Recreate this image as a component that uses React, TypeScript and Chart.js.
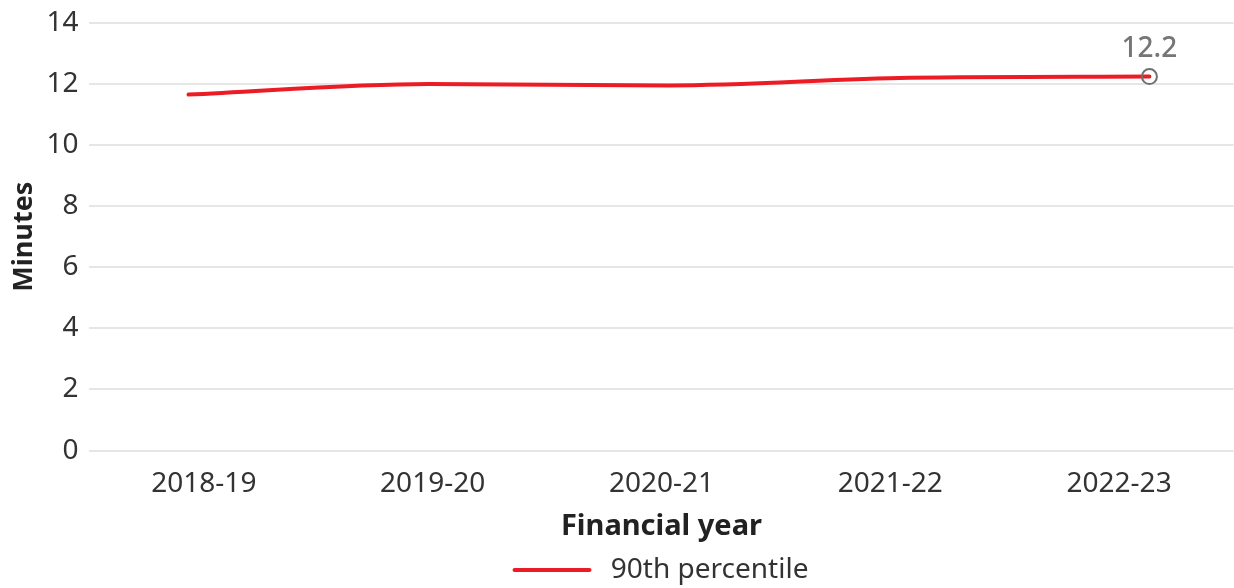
import React, { useEffect, useRef } from "react";
import { Chart, registerables } from "chart.js";

Chart.register(...registerables);

const categories = ["2018-19", "2019-20", "2020-21", "2021-22", "2022-23"];
const percentile90 = [11.65, 12.0, 11.95, 12.2, 12.24];
const yTicks = [0, 2, 4, 6, 8, 10, 12, 14];
const seriesName = "90th percentile";
const xTitle = "Financial year";
const yTitle = "Minutes";

const FONT = "'Noto Sans', 'DejaVu Sans', sans-serif";
const LAST = percentile90.length - 1;

const lastLabelPlugin = {
  id: "lastLabel",
  afterDatasetsDraw(chart: any) {
    const meta = chart.getDatasetMeta(0);
    const pt = meta.data[LAST];
    if (!pt) return;
    const ctx = chart.ctx;
    ctx.save();
    ctx.fillStyle = "#767676";
    ctx.font = `500 28px ${FONT}`;
    ctx.textAlign = "center";
    ctx.textBaseline = "alphabetic";
    ctx.fillText(percentile90[LAST].toFixed(1), pt.x, pt.y - 20);
    ctx.restore();
  },
};

export default function App() {
  const ref = useRef<HTMLCanvasElement | null>(null);
  useEffect(() => {
    document.body.style.overflow = "hidden";
    if (!ref.current) return;
    const chart = new Chart(ref.current, {
      type: "line",
      data: {
        labels: categories,
        datasets: [
          {
            label: seriesName,
            data: percentile90.map((v, i) => ({ x: i, y: v })),
            xAxisID: "xd",
            borderColor: "#ec1c24",
            backgroundColor: "#ec1c24",
            borderWidth: 4,
            borderCapStyle: "round",
            cubicInterpolationMode: "monotone",
            pointStyle: "circle",
            pointRadius: percentile90.map((_, i) => (i === LAST ? 7.5 : 0)),
            pointBorderColor: "#707070",
            pointBackgroundColor: "rgba(0,0,0,0)",
            pointBorderWidth: 2,
            pointHoverRadius: 0,
          } as any,
        ],
      },
      options: {
        animation: false,
        responsive: true,
        maintainAspectRatio: false,
        layout: { padding: { top: 0, right: 0, left: 8, bottom: -6 } },
        plugins: {
          tooltip: { enabled: false },
          legend: {
            position: "bottom",
            fullSize: false,
            labels: {
              usePointStyle: true,
              pointStyle: "line",
              pointStyleWidth: 75,
              boxHeight: 28,
              padding: 4,
              color: "#333333",
              font: { family: FONT, size: 28 },
              generateLabels: (chart: any) => {
                const items = Chart.defaults.plugins.legend.labels.generateLabels(chart);
                return items.map((it: any) => ({
                  ...it,
                  text: " " + it.text,
                  pointStyle: "line",
                  lineWidth: 4,
                  lineCap: "round",
                  strokeStyle: "#ec1c24",
                }));
              },
            },
          },
        },
        scales: {
          x: {
            type: "category",
            offset: true,
            grid: { display: false },
            border: { display: false },
            ticks: { color: "#333333", font: { family: FONT, size: 28 }, padding: 9 },
            title: {
              display: true,
              text: xTitle,
              color: "#222222",
              font: { family: FONT, size: 29, weight: "bold" },
              padding: { top: -1, bottom: 8 },
            },
          },
          xd: {
            type: "linear",
            display: false,
            min: -0.4125,
            max: 4.35,
          },
          y: {
            min: 0,
            max: 14,
            afterBuildTicks: (axis: any) => {
              axis.ticks = yTicks.map((v) => ({ value: v }));
            },
            grid: { color: "#e6e6e6", lineWidth: 2, drawTicks: false },
            border: { display: false },
            ticks: { color: "#333333", font: { family: FONT, size: 28 }, padding: 11 },
            title: {
              display: true,
              text: yTitle,
              color: "#222222",
              font: { family: FONT, size: 27, weight: "bold" },
              padding: { top: 0, bottom: -5 },
            },
          },
        },
      },
      plugins: [lastLabelPlugin],
    } as any);
    return () => chart.destroy();
  }, []);
  return (
    <div style={{ position: "fixed", left: 0, top: -5, width: 1243, height: 593, background: "#fff" }}>
      <canvas ref={ref} />
    </div>
  );
}
